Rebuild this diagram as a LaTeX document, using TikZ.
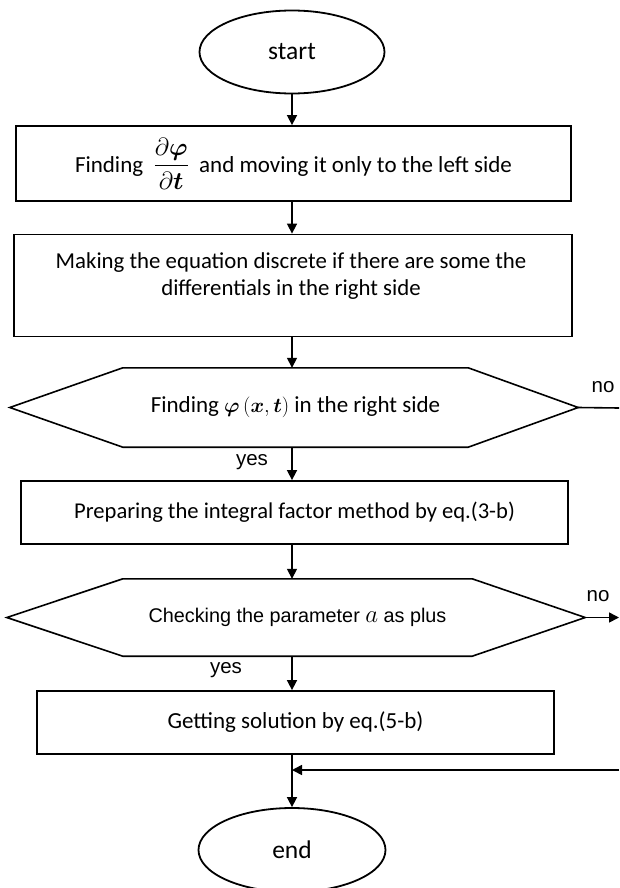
\documentclass[tikz,border=0pt]{standalone}
\usepackage{amsmath}
\usepackage{fontspec}
\setmainfont{Carlito}
\newfontfamily\arialf{Liberation Sans}
\usetikzlibrary{shapes.geometric,arrows.meta,calc}
\begin{document}
\begin{tikzpicture}[x=1pt,y=-1pt,
  every node/.style={inner sep=0pt, font=\fontsize{23}{27}\selectfont},
  term/.style={ellipse, draw, line width=1.8pt, font=\fontsize{25.5}{30}\selectfont},
  procbox/.style={rectangle, draw, line width=1.8pt, align=center},
  hextext/.style={rectangle, draw=none, align=center},
  hexline/.style={line width=1.6pt, line join=miter},
  flow/.style={line width=1.6pt, -{Triangle[length=10pt,width=10pt]}},
  plainline/.style={line width=1.6pt},
  lbl/.style={font=\arialf\fontsize{20.5}{24}\selectfont}
]
\useasboundingbox (0,0) rectangle (619,888);
\coordinate (axis) at (292,0);

\node[term, minimum width=185, minimum height=83] (start) at (292,52) {start};

\node[procbox, minimum width=555, minimum height=75] (box1) at (293.5,163.5)
  {Finding\ \ {\fontsize{25}{28}\selectfont$\dfrac{\partial\boldsymbol{\varphi}}{\partial\boldsymbol{t}}$}\ \ and moving it only to the left side};

\node[procbox, minimum width=558, minimum height=102] (box2) at (293,285.5) {};
\node[align=center, font=\fontsize{22.8}{26.5}\selectfont] (box2t) at (291,276)
  {Making the equation discrete if there are some the\\differentials in the right side};

\node[hextext, minimum width=345, minimum height=79] (hex1) at (295.5,407.5)
  {Finding {\fontsize{21}{24}\selectfont$\boldsymbol{\varphi}\,(\boldsymbol{x},\boldsymbol{t})$} in the right side};
\coordinate (hex1w) at ($(hex1.west)+(-113,0)$);
\coordinate (hex1e) at ($(hex1.east)+(110,0)$);
\draw[hexline] (hex1.north west) -- (hex1.north east) -- (hex1e) -- (hex1.south east)
  -- (hex1.south west) -- (hex1w) -- cycle;

\node[procbox, minimum width=547, minimum height=63, font=\fontsize{22.6}{26}\selectfont] (box3) at (294.5,512.5)
  {Preparing the integral factor method by eq.(3-b)};

\node[hextext, minimum width=349, minimum height=77, font=\arialf\fontsize{19.8}{24}\selectfont] (hex2) at (297.5,617.5)
  {Checking the parameter {\fontsize{23}{24}\selectfont$a$} as plus};
\coordinate (hex2w) at ($(hex2.west)+(-116,0)$);
\coordinate (hex2e) at ($(hex2.east)+(113,0)$);
\draw[hexline] (hex2.north west) -- (hex2.north east) -- (hex2e) -- (hex2.south east)
  -- (hex2.south west) -- (hex2w) -- cycle;

\node[procbox, minimum width=517, minimum height=63] (box4) at (295.5,722.5)
  {Getting solution by eq.(5-b)};

\node[term, minimum width=187, minimum height=84] (end) at (292,850) {end};

% main flow
\draw[flow] (start.south) -- (start.south |- box1.north);
\draw[flow] (box1.south -| axis) -- (box2.north -| axis);
\draw[flow] (box2.south -| axis) -- (hex1.north -| axis);
\draw[flow] (hex1.south -| axis) -- (box3.north -| axis);
\draw[flow] (box3.south -| axis) -- (hex2.north -| axis);
\draw[flow] (hex2.south -| axis) -- (box4.north -| axis);
\draw[flow] (box4.south -| axis) -- (end.north);

% labels
\node[lbl] (yes1) at (252,462) {yes};
\node[lbl] (no1) at (603,387) {no};
\node[lbl] (yes2) at (226,670) {yes};
\node[lbl] (no2) at (598,596) {no};

% no branches
\coordinate (n1) at (619,408);
\draw[plainline] (hex1e) -- (n1);
\coordinate (n2) at (619,617.5);
\draw[flow] (hex2e) -- (n2);
\coordinate (ret) at (619,770);
\draw[flow] (ret) -- (ret -| axis);
\end{tikzpicture}
\end{document}
